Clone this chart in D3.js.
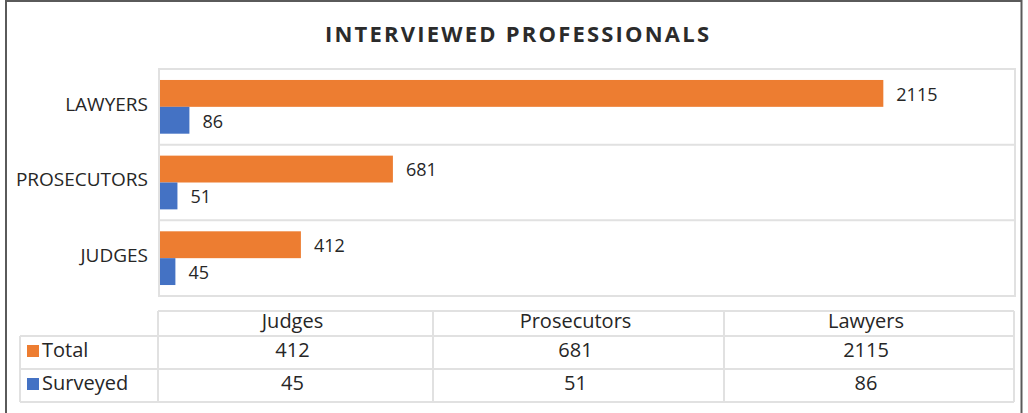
<!DOCTYPE html>
<html>
<head>
<meta charset="utf-8">
<script src="https://cdn.jsdelivr.net/npm/d3@7"></script>
<style>
  html, body { margin: 0; padding: 0; background: #ffffff; }
  svg { display: block; }
  text { font-family: "Open Sans", "Noto Sans", sans-serif; fill: #262626; }
</style>
</head>
<body>
<svg id="chart" width="1028" height="413"></svg>
<script>
// Categories as shown on the bar axis (top to bottom) and in the table (left to right)
const categories = ["LAWYERS", "PROSECUTORS", "JUDGES"];
const tableColumns = ["Judges", "Prosecutors", "Lawyers"];
const seriesNames = ["Total", "Surveyed"];
// Values per category, ordered like tableColumns
const totalValues = [412, 681, 2115];
const surveyedValues = [45, 51, 86];
const xDomainMax = 2500;

const colors = { Total: "#ED7D31", Surveyed: "#4472C4" };
const gridColor = "#e1e1e1";

const svg = d3.select("#chart");

// Outer frame
svg.append("path")
  .attr("d", "M6,413 V1 H1021.5 V413")
  .attr("fill", "none")
  .attr("stroke", "#5a5a5a")
  .attr("stroke-width", 2);

// Title
svg.append("text")
  .attr("x", 517).attr("y", 42)
  .attr("text-anchor", "middle")
  .attr("font-size", 22)
  .attr("font-weight", 700)
  .attr("textLength", 384)
  .attr("lengthAdjust", "spacing")
  .style("fill", "#2b2b2b")
  .text("INTERVIEWED PROFESSIONALS");

// Value lookup by category
const valueOf = {};
categories.forEach(c => {
  const i = tableColumns.findIndex(t => t.toUpperCase() === c);
  valueOf[c] = { Total: totalValues[i], Surveyed: surveyedValues[i] };
});

// Scales
const plot = { left: 159, right: 1015, top: 69, bottom: 296 };
const x = d3.scaleLinear().domain([0, xDomainMax]).range([plot.left + 1, plot.right]);
const y = d3.scaleBand().domain(categories).range([plot.top, plot.bottom]).padding(0);
const step = y.bandwidth();
const gap = step * 0.145;
const ySub = d3.scaleBand().domain(seriesNames).range([gap, step - gap]).padding(0);

// Plot area border and category gridlines
const g = svg.append("g");
g.append("rect")
  .attr("x", plot.left).attr("y", plot.top)
  .attr("width", plot.right - plot.left).attr("height", plot.bottom - plot.top)
  .attr("fill", "none").attr("stroke", gridColor).attr("stroke-width", 2);
g.selectAll("line.grid")
  .data(categories.slice(1))
  .join("line")
  .attr("class", "grid")
  .attr("x1", plot.left).attr("x2", plot.right)
  .attr("y1", d => y(d)).attr("y2", d => y(d))
  .attr("stroke", gridColor).attr("stroke-width", 2);

// Category axis labels
const yAxis = d3.axisLeft(y).tickSize(0).tickPadding(11);
const yAxisG = svg.append("g")
  .attr("transform", `translate(${plot.left},0)`)
  .call(yAxis);
yAxisG.select(".domain").remove();
yAxisG.selectAll("text")
  .attr("font-size", 19)
  .attr("dy", "0.2em")
  .style("font-family", "'Open Sans', sans-serif")
  .style("fill", "#262626");

// Bars
const barData = [];
categories.forEach(c => seriesNames.forEach(s => barData.push({ cat: c, series: s, value: valueOf[c][s] })));

const bars = svg.append("g");
bars.selectAll("rect")
  .data(barData)
  .join("rect")
  .attr("x", x(0))
  .attr("y", d => y(d.cat) + ySub(d.series))
  .attr("width", d => x(d.value) - x(0))
  .attr("height", ySub.bandwidth())
  .attr("fill", d => colors[d.series]);

// Value labels next to bars
bars.selectAll("text")
  .data(barData)
  .join("text")
  .attr("x", d => x(d.value) + 13)
  .attr("y", d => y(d.cat) + ySub(d.series) + ySub.bandwidth() / 2 + 2.5)
  .attr("dominant-baseline", "middle")
  .attr("font-size", 18)
  .text(d => d.value);

// Data table below the chart
const colEdges = [158, 433, 724, 1014];
const legendLeft = 20;
const rowEdges = [311, 336, 369, 402];
const table = svg.append("g");
const lineAttr = sel => sel.attr("stroke", gridColor).attr("stroke-width", 2).attr("fill", "none");

// Horizontal rules
table.append("line").attr("x1", colEdges[0]).attr("x2", colEdges[3]).attr("y1", rowEdges[0]).attr("y2", rowEdges[0]).call(lineAttr);
rowEdges.slice(1).forEach(r => {
  table.append("line").attr("x1", legendLeft).attr("x2", colEdges[3]).attr("y1", r).attr("y2", r).call(lineAttr);
});
// Vertical rules
table.append("line").attr("x1", legendLeft).attr("x2", legendLeft).attr("y1", rowEdges[1]).attr("y2", rowEdges[3]).call(lineAttr);
colEdges.forEach(cx => {
  table.append("line").attr("x1", cx).attr("x2", cx).attr("y1", rowEdges[0]).attr("y2", rowEdges[3]).call(lineAttr);
});

const colCenter = i => (colEdges[i] + colEdges[i + 1]) / 2;
const rowCenter = i => (rowEdges[i] + rowEdges[i + 1]) / 2;

// Header row
table.selectAll("text.head")
  .data(tableColumns)
  .join("text")
  .attr("class", "head")
  .attr("x", (d, i) => colCenter(i) - 3)
  .attr("y", rowCenter(0) - 1)
  .attr("text-anchor", "middle")
  .attr("dominant-baseline", "middle")
  .attr("font-size", 20)
  .text(d => d);

// Series rows
const seriesRows = [
  { name: "Total", values: totalValues },
  { name: "Surveyed", values: surveyedValues }
];
seriesRows.forEach((row, r) => {
  const cy = rowCenter(r + 1) - 1;
  table.append("rect")
    .attr("x", 27).attr("y", cy - 6.5)
    .attr("width", 12).attr("height", 12)
    .attr("fill", colors[row.name]);
  table.append("text")
    .attr("x", 42).attr("y", cy)
    .attr("dominant-baseline", "middle")
    .attr("font-size", 20)
    .text(row.name);
  table.selectAll(null)
    .data(row.values)
    .join("text")
    .attr("x", (d, i) => colCenter(i) - 3)
    .attr("y", cy)
    .attr("text-anchor", "middle")
    .attr("dominant-baseline", "middle")
    .attr("font-size", 20)
    .text(d => d);
});
</script>
</body>
</html>
